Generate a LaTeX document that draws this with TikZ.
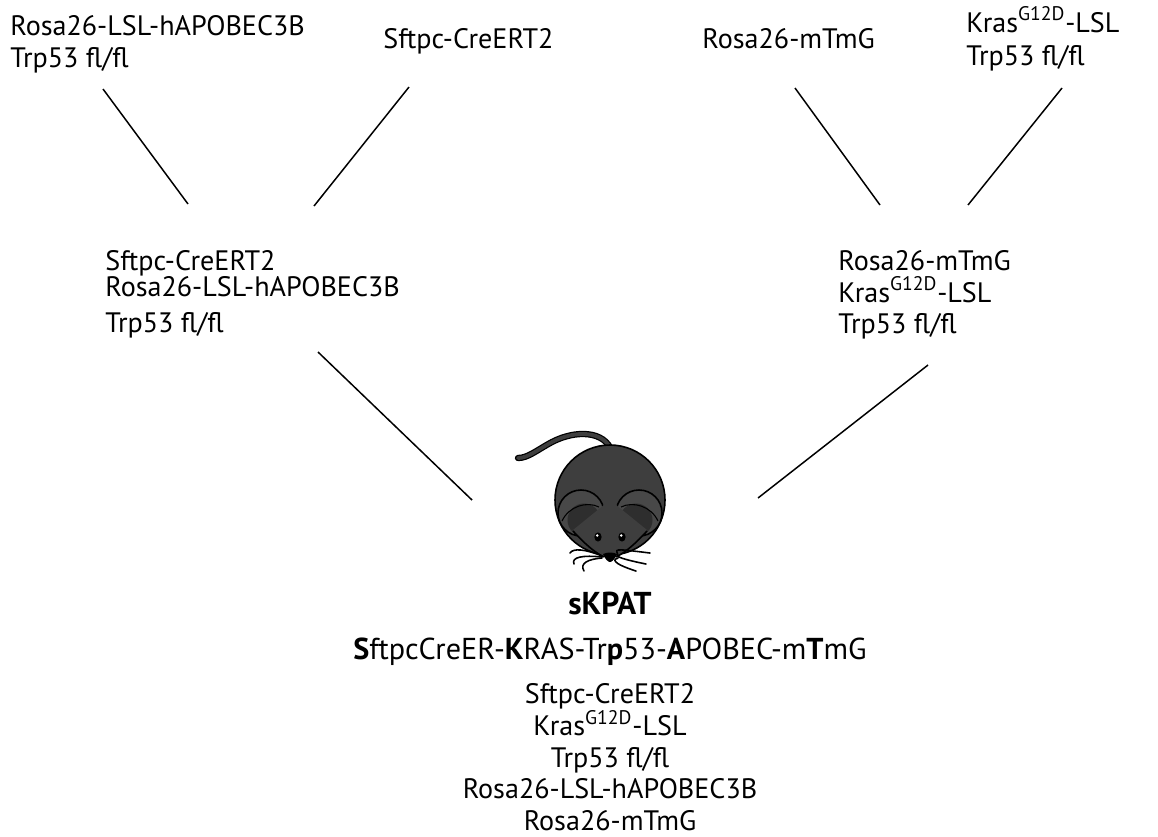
\documentclass[tikz,border=0pt]{standalone}
\usepackage{fontspec}
\setmainfont{PT Sans}

\definecolor{mousegray}{RGB}{62,62,62}
\definecolor{eargray}{RGB}{72,72,72}
\definecolor{eardark}{RGB}{46,46,46}

\begin{document}
\begin{tikzpicture}[x=0.02cm,y=-0.02cm,
    gene/.style={inner sep=0pt, font=\fontsize{16}{19}\selectfont},
    cross/.style={line width=0.85pt, black},
    outline/.style={line width=0.9pt, draw=black},
    whisker/.style={line width=0.9pt, black, line cap=round}]

    \useasboundingbox (0,0) rectangle (1158,836);

    % Parental lines
    \node[gene, anchor=base west] (pa1) at (10,35) {Rosa26-LSL-hAPOBEC3B};
    \node[gene, anchor=base west] (pa2) at (10,67) {Trp53 fl/fl};
    \node[gene, anchor=base west] (pb1) at (383,48) {Sftpc-CreERT2};
    \node[gene, anchor=base west] (pc1) at (702,48) {Rosa26-mTmG};
    \node[gene, anchor=base west] (pd1) at (966,32) {Kras\textsuperscript{G12D}-LSL};
    \node[gene, anchor=base west] (pd2) at (966,65) {Trp53 fl/fl};

    % First generation
    \node[gene, anchor=base west] (fa1) at (105,270) {Sftpc-CreERT2};
    \node[gene, anchor=base west] (fa2) at (105,296) {Rosa26-LSL-hAPOBEC3B};
    \node[gene, anchor=base west] (fa3) at (105,332) {Trp53 fl/fl};
    \node[gene, anchor=base west] (fb1) at (838,270) {Rosa26-mTmG};
    \node[gene, anchor=base west] (fb2) at (838,302) {Kras\textsuperscript{G12D}-LSL};
    \node[gene, anchor=base west] (fb3) at (838,333) {Trp53 fl/fl};

    % Crossing lines
    \coordinate (c1a) at (103,89);   \coordinate (c1b) at (188,204);
    \coordinate (c2a) at (409,87);   \coordinate (c2b) at (314,206);
    \coordinate (c3a) at (795,88);   \coordinate (c3b) at (880,205);
    \coordinate (c4a) at (1062,88);  \coordinate (c4b) at (968,205);
    \coordinate (c5a) at (318,352);  \coordinate (c5b) at (472,500);
    \coordinate (c6a) at (928,365);  \coordinate (c6b) at (758,498);
    \foreach \i in {1,...,6}
        \draw[cross] (c\i a) -- (c\i b);

    % Mouse: tail
    \draw[line width=3.6pt, black, line cap=round]
        (612,452) .. controls (605,430) and (575,430) .. (552,442)
        .. controls (537,450) and (528,458) .. (518,458);
    \draw[line width=2.2pt, mousegray, line cap=round]
        (612,452) .. controls (605,430) and (575,430) .. (552,442)
        .. controls (537,450) and (528,458) .. (518,458);

    % body
    \filldraw[fill=mousegray, outline] (610,500) circle (55);

    % ears
    \foreach \ex/\s in {581/1, 639/-1} {
        \filldraw[fill=eargray, outline] (\ex,513) circle (23);
        \fill[eardark] (\ex+3*\s,520) circle (16.5);
        \draw[line width=0.6pt, black] (\ex-19*\s,521) .. controls (\ex-12*\s,506) and (\ex+6*\s,501) .. (\ex+18*\s,507);
    }

    % face
    \fill[mousegray] (573,530) -- (610,500) -- (647,530)
        .. controls (636,543) and (626,552) .. (616,557)
        -- (604,557) .. controls (594,552) and (584,543) .. (573,530) -- cycle;
    \draw[outline] (573,531) .. controls (584,543) and (594,552) .. (604,557);
    \draw[outline] (647,531) .. controls (636,543) and (626,552) .. (616,557);

    % eyes and nose
    \foreach \ey in {598,622} {
        \fill[black] (\ey,537) ellipse (3.6 and 4.6);
        \fill[white] (\ey-0.8,535.5) circle (1.4);
    }
    \fill[black] (603,554) .. controls (607,552) and (613,552) .. (617,554)
        .. controls (615,559) and (612,562) .. (610,562)
        .. controls (608,562) and (605,559) .. (603,554) -- cycle;

    % whiskers
    \foreach \s in {1,-1} {
        \draw[whisker] (610-8*\s,556) .. controls (601-16*\s,549) and (591-18*\s,548) .. (610-40*\s,553);
        \draw[whisker] (610-8*\s,557) .. controls (601-18*\s,555) and (591-20*\s,557) .. (610-36*\s,564);
        \draw[whisker] (610-8*\s,558) .. controls (601-12*\s,559) and (595-16*\s,563) .. (610-26*\s,571);
    }

    % Offspring
    \node[font=\fontsize{18}{22}\selectfont\bfseries, inner sep=0pt, anchor=base] (name) at (610,614) {sKPAT};
    \node[font=\fontsize{17.2}{21}\selectfont, inner sep=0pt, anchor=base] (full) at (610,659)
        {\textbf{S}ftpcCreER-\textbf{K}RAS-Tr\textbf{p}53-\textbf{A}POBEC-m\textbf{T}mG};
    \node[gene, anchor=base] (g1) at (610,703) {Sftpc-CreERT2};
    \node[gene, anchor=base] (g2) at (610,735) {Kras\textsuperscript{G12D}-LSL};
    \node[gene, anchor=base] (g3) at (610,767) {Trp53 fl/fl};
    \node[gene, anchor=base] (g4) at (610,798) {Rosa26-LSL-hAPOBEC3B};
    \node[gene, anchor=base] (g5) at (610,830) {Rosa26-mTmG};
\end{tikzpicture}
\end{document}
